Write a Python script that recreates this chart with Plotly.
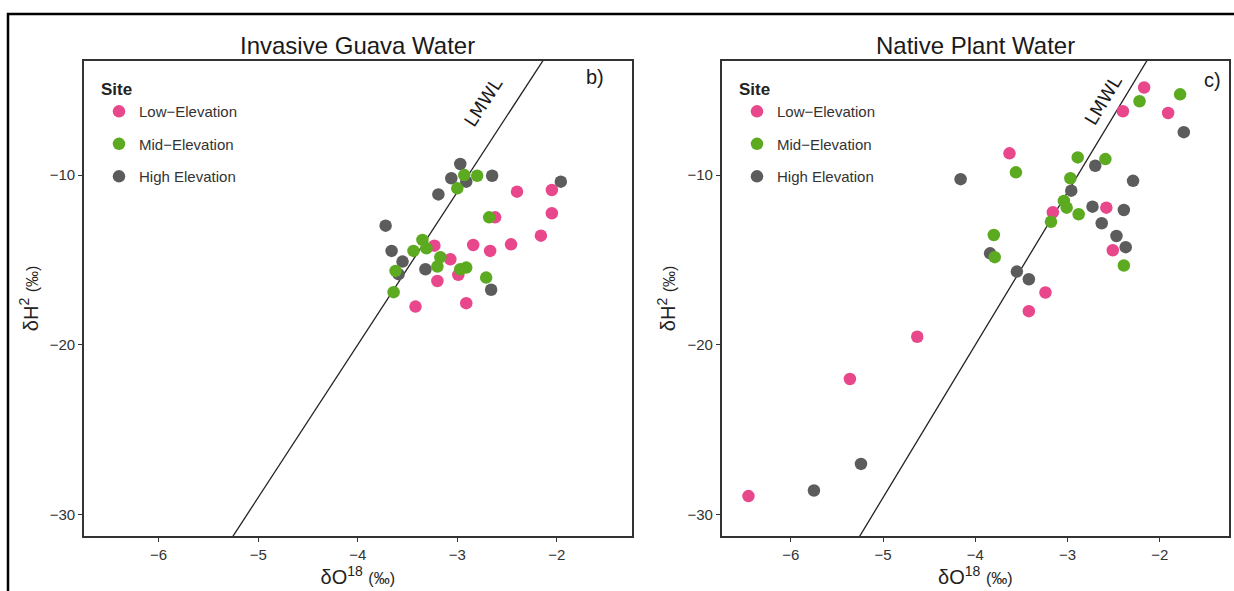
import plotly.graph_objects as go

# ---------------- data ----------------
site_names = ["Low\u2212Elevation", "Mid\u2212Elevation", "High Elevation"]
site_colors = ["#E8478B", "#5BAA1F", "#5C5C5C"]

guava_low_x = [-2.40, -2.05, -2.62, -2.05, -2.84, -2.67, -2.46, -2.16, -3.23, -3.07, -2.99, -3.20, -3.42, -2.91]
guava_low_y = [-10.98, -10.88, -12.49, -12.25, -14.12, -14.47, -14.08, -13.57, -14.16, -14.96, -15.88, -16.24, -17.75, -17.55]
guava_mid_x = [-2.93, -2.80, -3.00, -2.68, -3.35, -3.44, -3.31, -3.17, -3.20, -2.97, -2.91, -2.71, -3.62, -3.64]
guava_mid_y = [-10.00, -10.04, -10.78, -12.49, -13.82, -14.47, -14.31, -14.84, -15.39, -15.55, -15.45, -16.04, -15.65, -16.90]
guava_high_x = [-2.97, -3.06, -2.91, -2.65, -3.19, -1.96, -3.72, -3.66, -3.55, -3.59, -3.32, -2.66]
guava_high_y = [-9.35, -10.19, -10.39, -10.04, -11.14, -10.39, -12.98, -14.47, -15.10, -15.84, -15.55, -16.76]

native_low_x = [-2.17, -2.40, -1.91, -3.63, -3.16, -2.58, -2.51, -3.24, -3.42, -4.63, -5.36, -6.46]
native_low_y = [-4.84, -6.24, -6.34, -8.72, -12.19, -11.92, -14.43, -16.92, -18.02, -19.53, -22.02, -28.92]
native_mid_x = [-1.78, -2.22, -2.89, -2.59, -3.56, -2.97, -3.04, -3.01, -2.88, -3.18, -3.80, -3.79, -2.39]
native_mid_y = [-5.24, -5.65, -8.96, -9.06, -9.84, -10.19, -11.53, -11.92, -12.31, -12.75, -13.53, -14.84, -15.33]
native_high_x = [-1.74, -4.16, -2.70, -2.29, -2.96, -2.73, -2.39, -2.63, -2.47, -2.37, -3.84, -3.55, -3.42, -5.24, -5.75]
native_high_y = [-7.47, -10.24, -9.45, -10.34, -10.92, -11.86, -12.06, -12.84, -13.59, -14.25, -14.61, -15.69, -16.14, -27.02, -28.59]

lmwl_slope = 9.0
lmwl_intercept = 16.0

x_range = [-6.75, -1.25]
y_range = [-31.27, -3.26]
x_ticks = [-6, -5, -4, -3, -2]
y_ticks = [-30, -20, -10]

panel_titles = ["Invasive Guava Water", "Native Plant Water"]
panel_tags = ["b)", "c)"]

# ---------------- figure ----------------
FONT = "Liberation Sans, Arial, sans-serif"
fig = go.Figure()

panels = [
    dict(xa="x", ya="y", legend="legend",
         data=[(guava_low_x, guava_low_y), (guava_mid_x, guava_mid_y), (guava_high_x, guava_high_y)]),
    dict(xa="x2", ya="y2", legend="legend2",
         data=[(native_low_x, native_low_y), (native_mid_x, native_mid_y), (native_high_x, native_high_y)]),
]

draw_order = [0, 2, 1]  # pink, grey, then green on top
for p in panels:
    lx = [x_range[0], x_range[1]]
    ly = [lmwl_slope * v + lmwl_intercept for v in lx]
    fig.add_trace(go.Scatter(x=lx, y=ly, mode="lines", xaxis=p["xa"], yaxis=p["ya"],
                             line=dict(color="#222222", width=1.3), showlegend=False,
                             hoverinfo="skip"))
    for k in draw_order:
        xs, ys = p["data"][k]
        fig.add_trace(go.Scatter(
            x=xs, y=ys, mode="markers", name=site_names[k],
            xaxis=p["xa"], yaxis=p["ya"], legend=p["legend"],
            legendrank=k + 1, legendgroup=f"{p['legend']}_{k}",
            marker=dict(size=12.5, color=site_colors[k], line=dict(width=0)),
        ))

axis_common = dict(
    showline=True, mirror=True, linecolor="#333333", linewidth=1.6,
    showgrid=False, zeroline=False, ticks="outside", ticklen=4,
    tickcolor="#333333", tickwidth=1,
    tickfont=dict(family=FONT, size=15, color="#333333"),
)
x_title = "\u03b4O<sup>18</sup> <span style='font-size:16px'>(\u2030)</span>"
y_title = "\u03b4H<sup>2</sup> <span style='font-size:16px'>(\u2030)</span>"

H = 591.0
W = 1234.0
y_dom = [1 - 536 / H, 1 - 60.7 / H]

legend_common = dict(
    xanchor="left", yanchor="top",
    bgcolor="rgba(255,255,255,0)", traceorder="grouped", tracegroupgap=10,
    title=dict(text="<b>Site</b>", font=dict(size=17, color="#222222")),
    font=dict(family=FONT, size=15, color="#333333"),
)

fig.update_layout(
    width=1234, height=591,
    margin=dict(l=0, r=0, t=0, b=0),
    paper_bgcolor="white", plot_bgcolor="white",
    font=dict(family=FONT, color="#222222"),
    xaxis=dict(domain=[84 / W, 631.5 / W], range=x_range, tickvals=x_ticks, anchor="y",
               title=dict(text=x_title, font=dict(size=20, color="#222222"), standoff=2),
               **axis_common),
    yaxis=dict(domain=y_dom, range=y_range, tickvals=y_ticks, anchor="x",
               title=dict(text=y_title, font=dict(size=20, color="#222222"), standoff=6),
               **axis_common),
    xaxis2=dict(domain=[721.7 / W, 1229 / W], range=x_range, tickvals=x_ticks, anchor="y2",
                title=dict(text=x_title, font=dict(size=20, color="#222222"), standoff=2),
                **axis_common),
    yaxis2=dict(domain=y_dom, range=y_range, tickvals=y_ticks, anchor="x2",
                title=dict(text=y_title, font=dict(size=20, color="#222222"), standoff=6),
                **axis_common),
    legend=dict(x=99 / W, y=1 - 73 / H, **legend_common),
    legend2=dict(x=737 / W, y=1 - 73 / H, **legend_common),
    showlegend=True,
)

# panel titles
title_centers = [(84 + 631.5) / 2 / W, (721.7 + 1229) / 2 / W]
for t, cx in zip(panel_titles, title_centers):
    fig.add_annotation(text=t, x=cx, y=1 - 46 / H, xref="paper", yref="paper",
                       showarrow=False, xanchor="center", yanchor="middle",
                       font=dict(family=FONT, size=24, color="#1a1a1a"))

# panel tags and LMWL labels
tag_pos = [(-1.62, -4.22), (-1.43, -4.4)]
lmwl_pos = [(-2.74, -5.75), (-2.62, -5.58)]
lmwl_angle = [-57, -59]
for i, (xa, ya) in enumerate([("x", "y"), ("x2", "y2")]):
    fig.add_annotation(text=panel_tags[i], x=tag_pos[i][0], y=tag_pos[i][1], xref=xa, yref=ya,
                       showarrow=False, font=dict(family=FONT, size=20, color="#1a1a1a"))
    fig.add_annotation(text="LMWL", x=lmwl_pos[i][0], y=lmwl_pos[i][1], xref=xa, yref=ya,
                       showarrow=False, textangle=lmwl_angle[i],
                       font=dict(family="DejaVu Sans, sans-serif", size=18, color="#1a1a1a"))

# outer frame
fig.add_shape(type="rect", xref="paper", yref="paper",
              x0=8 / W, x1=1.05, y0=-0.05, y1=1 - 14 / H,
              line=dict(color="black", width=2.5), fillcolor="rgba(0,0,0,0)", layer="above")

fig.write_html("out.html", config={"displayModeBar": False},
               post_script="document.body.style.margin='0';")
